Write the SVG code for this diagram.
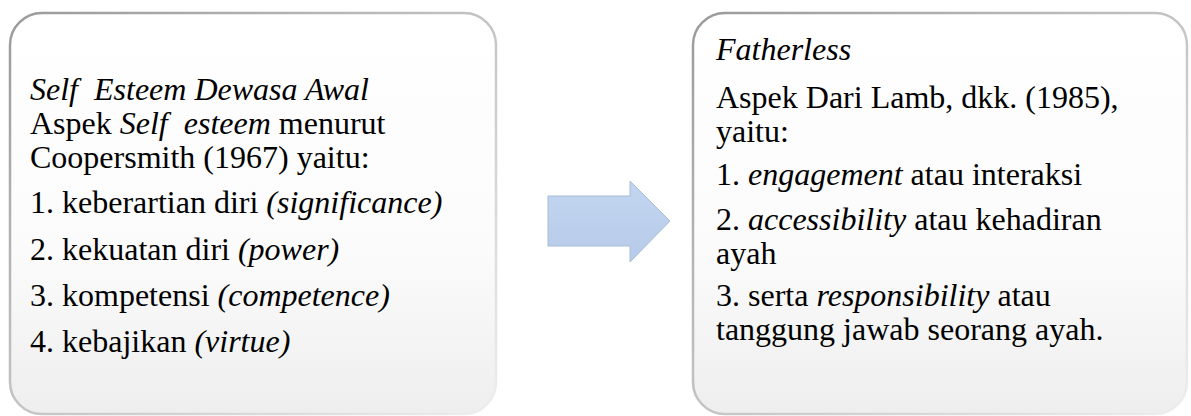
<svg xmlns="http://www.w3.org/2000/svg" width="1191" height="416" viewBox="0 0 1191 416">
<defs>
<linearGradient id="boxFill" x1="0" y1="0" x2="0" y2="1">
<stop offset="0" stop-color="#ffffff"/>
<stop offset="0.6" stop-color="#fbfbfb"/>
<stop offset="1" stop-color="#eeeeee"/>
</linearGradient>
<linearGradient id="boxStroke" x1="0" y1="0" x2="1" y2="1">
<stop offset="0" stop-color="#9a9a9a"/>
<stop offset="0.5" stop-color="#c4c4c4"/>
<stop offset="1" stop-color="#eeeeee"/>
</linearGradient>
<linearGradient id="arrowFill" x1="0" y1="0" x2="0" y2="1">
<stop offset="0" stop-color="#c2d5f0"/>
<stop offset="1" stop-color="#b7cbea"/>
</linearGradient>
</defs>
<rect width="1191" height="416" fill="#ffffff"/>
<g id="node-self-esteem">
<rect x="10" y="13" width="486" height="401" rx="32" ry="32" fill="url(#boxFill)" stroke="url(#boxStroke)" stroke-width="2.5"/>
<text x="30" y="100" font-size="32" font-family="Liberation Serif"><tspan font-style="italic">Self&#160; Esteem Dewasa Awal</tspan></text>
<text x="30" y="134" font-size="32" font-family="Liberation Serif">Aspek <tspan font-style="italic">Self&#160; esteem</tspan> menurut</text>
<text x="30" y="168" font-size="32" font-family="Liberation Serif">Coopersmith (1967) yaitu:</text>
<text x="30" y="213" font-size="32" font-family="Liberation Serif">1. keberartian diri <tspan font-style="italic">(significance)</tspan></text>
<text x="30" y="260" font-size="32" font-family="Liberation Serif">2. kekuatan diri <tspan font-style="italic">(power)</tspan></text>
<text x="30" y="306" font-size="32" font-family="Liberation Serif">3. kompetensi <tspan font-style="italic">(competence)</tspan></text>
<text x="30" y="352" font-size="32" font-family="Liberation Serif">4. kebajikan <tspan font-style="italic">(virtue)</tspan></text>
</g>
<g id="connectors">
<path d="M548,196 L630,196 L630,181 L670,221 L630,262 L630,246 L548,246 Z" fill="url(#arrowFill)" stroke="#a9bcd6" stroke-width="1"/>
</g>
<g id="node-fatherless">
<rect x="693" y="13" width="494" height="401" rx="32" ry="32" fill="url(#boxFill)" stroke="url(#boxStroke)" stroke-width="2.5"/>
<text x="716" y="60" font-size="32" font-family="Liberation Serif" font-style="italic">Fatherless</text>
<text x="716" y="108" font-size="32" font-family="Liberation Serif">Aspek Dari Lamb, dkk. (1985),</text>
<text x="716" y="142" font-size="32" font-family="Liberation Serif">yaitu:</text>
<text x="716" y="185" font-size="32" font-family="Liberation Serif">1. <tspan font-style="italic">engagement</tspan> atau interaksi</text>
<text x="716" y="230" font-size="32" font-family="Liberation Serif">2. <tspan font-style="italic">accessibility</tspan> atau kehadiran</text>
<text x="716" y="264" font-size="32" font-family="Liberation Serif">ayah</text>
<text x="716" y="306" font-size="32" font-family="Liberation Serif">3. serta <tspan font-style="italic">responsibility</tspan> atau</text>
<text x="716" y="340" font-size="32" font-family="Liberation Serif">tanggung jawab seorang ayah.</text>
</g>
</svg>
